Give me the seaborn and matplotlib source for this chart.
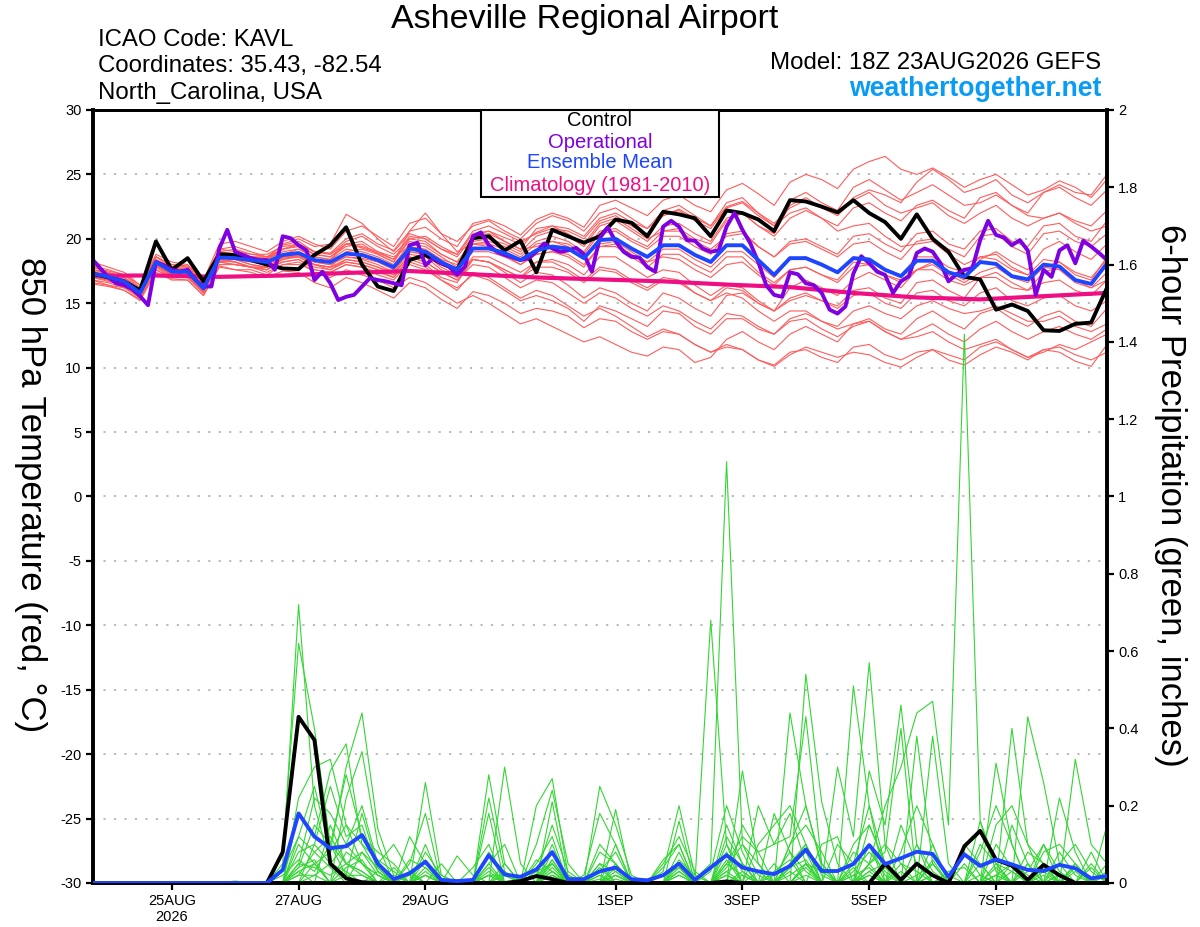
import numpy as np
import pandas as pd
import matplotlib
matplotlib.use("Agg")
import matplotlib.pyplot as plt
import seaborn as sns
from matplotlib.patches import Rectangle

# ---------------- data ----------------
run_start = "2026-08-23 18:00"
n6 = 65      # 6-hourly steps, 0..384 h
n3 = 129     # 3-hourly steps (operational)
n24 = 17     # daily steps (climatology)

xtick_dates = ["2026-08-25", "2026-08-27", "2026-08-29", "2026-09-01",
               "2026-09-03", "2026-09-05", "2026-09-07"]
xtick_labels = ["25AUG\n2026", "27AUG", "29AUG", "1SEP", "3SEP", "5SEP", "7SEP"]
temp_ticks = [30, 25, 20, 15, 10, 5, 0, -5, -10, -15, -20, -25, -30]
temp_tick_labels = ["30", "25", "20", "15", "10", "5", "0", "-5", "-10", "-15", "-20", "-25", "-30"]
pcp_ticks = [0, 0.2, 0.4, 0.6, 0.8, 1.0, 1.2, 1.4, 1.6, 1.8, 2.0]
pcp_tick_labels = ["0", "0.2", "0.4", "0.6", "0.8", "1", "1.2", "1.4", "1.6", "1.8", "2"]

control_t = [17.3, 17.0, 16.7, 16.0, 19.8, 17.6, 18.5, 16.7,
             18.8, 18.75, 18.35, 18.0, 17.7, 17.65, 18.75, 19.5,
             20.9, 18.0, 16.3, 15.95, 18.35, 18.75, 18.1, 17.6,
             20.05, 20.2, 19.1, 19.85, 17.4, 20.7, 20.2, 19.7,
             20.2, 21.5, 21.25, 20.2, 22.1, 21.9, 21.6, 20.2,
             22.2, 22.0, 21.5, 20.6, 23.0, 22.9, 22.5, 22.05,
             23.0, 22.0, 21.3, 20.0, 21.9, 20.0, 19.0, 17.05,
             16.85, 14.5, 14.9, 14.4, 12.9, 12.85, 13.4, 13.5,
             16.2]

mean_t = [17.3, 17.05, 16.7, 15.8, 18.2, 17.45, 17.45, 16.15,
          18.55, 18.5, 18.35, 18.2, 18.75, 18.9, 18.35, 18.2,
          18.85, 18.75, 18.35, 17.8, 19.25, 19.0, 18.2, 17.6,
          19.25, 19.25, 18.9, 18.35, 19.1, 19.4, 19.25, 18.5,
          19.9, 20.0, 19.25, 18.6, 19.5, 19.5, 18.75, 18.2,
          19.5, 19.5, 18.35, 17.2, 18.5, 18.5, 18.0, 17.4,
          18.5, 18.4, 17.6, 17.1, 18.3, 18.3, 17.4, 17.05,
          18.2, 18.05, 17.1, 16.85, 18.0, 17.85, 16.8, 16.5,
          18.1]

oper_t = [18.4, 17.7, 17.0, 16.55, 16.4, 16.1, 15.55, 14.85,
          18.2, 17.95, 17.6, 17.45, 17.6, 16.8, 16.3, 16.3,
          19.25, 20.7, 19.0, 18.75, 18.5, 18.35, 18.35, 17.6,
          20.2, 20.05, 19.5, 19.1, 16.8, 17.45, 16.55, 15.25,
          15.5, 15.65, 16.3, 16.95, 16.8, 16.7, 16.55, 16.4,
          19.5, 19.7, 17.95, 18.5, 18.1, 17.85, 17.2, 17.85,
          20.2, 20.5, 19.5, 19.0, 18.75, 18.55, 18.35, 18.5,
          19.0, 19.65, 19.25, 19.0, 19.1, 19.3, 18.8, 17.45,
          20.05, 20.9, 19.8, 19.0, 18.6, 18.55, 17.8, 17.45,
          20.95, 21.4, 20.95, 19.9, 19.85, 19.25, 19.0, 19.1,
          20.95, 22.0, 20.7, 19.65, 18.2, 16.4, 15.65, 15.5,
          17.4, 17.25, 16.55, 16.4, 15.8, 14.5, 14.2, 14.75,
          17.3, 18.65, 18.1, 17.45, 17.2, 15.8, 16.7, 17.1,
          18.9, 19.25, 19.0, 18.1, 16.7, 17.25, 17.6, 17.7,
          19.9, 21.4, 20.3, 20.1, 19.5, 19.9, 19.1, 15.65,
          17.6, 17.05, 19.1, 19.5, 18.1, 19.85, 19.4, 18.9,
          18.35]

clim_t = [17.15, 17.15, 17.05, 17.15, 17.35, 17.5, 17.25, 17.0, 16.85,
          16.7, 16.45, 16.25, 15.8, 15.45, 15.3, 15.55, 15.8]

mem_a = [17.8,17.5,17.2,16.4, 18.6,18.0,17.9,16.8, 19.2,19.4,19.0,18.6, 19.5,19.8,19.0,18.9,
         20.0,20.4,19.6,19.1, 20.6,20.9,20.0,19.4, 21.2,21.5,21.0,20.3, 21.5,22.0,21.6,20.9,
         22.6,23.0,22.4,21.8, 23.0,23.4,22.6,22.1, 23.8,24.3,23.5,22.6, 24.4,25.0,24.6,23.9,
         25.4,26.0,26.4,25.4, 25.0,25.5,24.8,24.0, 24.6,25.0,24.2,23.4, 23.8,24.5,24.0,23.2, 24.6]
mem_b = [17.0,16.8,16.5,15.9, 18.0,17.2,17.0,16.0, 18.8,18.6,18.6,18.5, 19.2,19.5,18.8,18.6,
         19.6,19.3,18.9,18.4, 20.2,20.0,19.2,18.8, 20.4,20.6,20.1,19.6, 20.5,21.0,20.8,20.2,
         21.6,22.0,21.3,20.8, 21.8,22.3,21.6,21.0, 22.5,22.9,22.0,21.2, 22.4,23.0,22.5,22.0,
         23.2,23.8,23.4,22.8, 24.4,25.4,24.6,23.6, 24.0,24.6,23.4,22.8, 23.6,24.2,23.6,23.4, 25.0]
mem_c = [16.8,16.4,16.0,15.3, 17.6,16.9,16.8,15.6, 17.9,17.6,17.4,17.0, 17.5,17.4,16.6,16.2,
         17.0,16.6,16.0,15.4, 16.6,16.2,15.3,14.6, 15.9,15.6,15.0,14.2, 14.6,14.4,14.0,13.1,
         13.8,13.6,12.8,12.2, 12.8,12.6,11.8,11.2, 11.6,11.4,10.6,10.2, 11.2,11.4,10.8,10.4,
         11.6,11.8,11.0,10.6, 11.2,11.4,10.6,10.2, 11.0,11.6,11.2,10.6, 11.4,11.2,10.5,10.1, 11.8]
mem_d = [17.5,17.2,16.6,15.6, 18.0,17.6,17.1,16.2, 18.2,18.0,17.8,17.4, 18.0,18.2,17.4,17.0,
         17.6,17.2,16.8,16.2, 17.0,16.6,15.8,15.0, 15.6,15.0,14.2,13.4, 13.8,13.2,12.6,12.0,
         12.4,11.8,11.2,10.9, 11.6,11.4,10.4,10.8, 12.2,12.8,12.0,11.4, 12.6,13.2,12.6,12.0,
         13.4,13.8,13.0,12.6, 13.8,14.4,13.6,13.0, 14.2,14.6,13.8,13.2, 14.0,14.4,13.6,13.2, 14.6]
mem_e = [16.6,16.4,16.2,15.6, 17.8,17.0,17.2,15.8, 18.4,18.2,17.8,17.6, 18.2,18.4,17.6,17.4,
         18.0,17.8,17.2,16.8, 18.2,17.8,16.8,16.0, 17.4,17.0,16.2,15.4, 16.0,15.6,14.8,14.0,
         14.6,14.0,13.2,12.4, 13.0,12.6,11.8,11.2, 11.8,11.4,10.6,10.1, 11.0,11.6,11.2,10.8,
         11.2,11.0,10.4,10.05, 10.8,11.4,11.0,10.6, 11.6,12.0,11.4,10.8, 11.2,11.8,11.4,12.0, 12.6]
mem_f = [17.0,16.9,16.4,15.5, 17.9,17.3,17.3,16.0, 18.2,18.4,18.0,17.8, 18.4,18.8,18.0,17.6,
         18.2,18.0,17.6,17.0, 18.6,18.2,17.4,16.8, 18.0,17.8,17.0,16.2, 16.8,16.6,15.8,15.0,
         15.8,15.4,14.6,14.0, 14.8,14.4,13.6,13.0, 14.2,14.0,13.2,12.6, 13.6,13.8,13.0,12.4,
         13.2,13.6,12.8,12.2, 12.8,13.4,12.6,12.0, 13.0,13.6,12.8,12.2, 12.8,13.2,12.6,12.2, 13.0]
mem_g = [17.4,17.1,16.9,16.0, 18.4,17.6,17.6,16.4, 18.8,18.6,18.4,18.4, 19.0,19.2,18.6,18.4,
         19.2,19.0,18.6,18.0, 19.6,19.4,18.6,17.8, 19.6,19.6,19.2,18.6, 19.6,19.8,19.6,18.8,
         20.4,20.6,19.8,19.2, 20.2,20.2,19.4,18.8, 20.4,20.6,19.4,18.6, 19.8,20.0,19.4,18.8,
         20.2,20.4,19.6,19.0, 20.4,20.6,19.6,19.2, 20.6,20.8,19.8,19.4, 21.0,21.2,20.2,19.8, 21.4]
mem_h = [18.2,17.8,17.4,16.4, 18.8,18.2,18.0,16.8, 19.6,19.8,19.4,19.0, 19.8,20.2,19.6,19.2,
         20.6,21.0,20.2,19.4, 21.2,21.6,20.4,19.8, 21.0,21.4,20.6,20.0, 21.2,21.8,21.4,20.6,
         22.0,22.4,21.6,20.8, 22.2,22.6,21.8,21.0, 22.8,23.2,22.0,21.0, 22.0,22.4,21.6,20.6,
         21.0,21.2,20.2,19.4, 19.6,19.8,18.8,18.0, 18.6,18.8,17.8,17.2, 17.8,17.6,16.6,16.2, 17.4]
mem_i = [16.5,16.3,16.0,15.2, 17.4,16.8,16.8,15.6, 17.8,17.6,17.6,17.2, 18.0,18.0,17.6,17.4,
         18.0,17.8,17.4,17.0, 18.4,18.0,17.0,16.6, 18.4,18.2,17.6,17.0, 17.8,17.8,17.4,16.6,
         17.6,17.4,16.6,16.0, 16.8,16.6,15.8,15.2, 16.2,16.0,15.0,14.4, 15.4,15.8,15.2,14.6,
         15.6,15.8,15.0,14.6, 15.8,16.0,15.2,14.8, 15.8,16.2,15.2,14.8, 15.4,15.6,14.8,14.4, 15.2]
mem_j = [17.6,17.4,17.0,16.2, 18.6,17.8,17.8,16.6, 18.6,18.8,18.6,18.4, 19.2,19.4,18.8,18.6,
         19.4,19.6,18.8,18.2, 20.0,19.8,18.8,18.2, 19.8,20.0,19.6,19.0, 20.2,20.6,20.2,19.4,
         21.0,21.4,20.6,19.8, 21.0,21.2,20.4,19.8, 21.6,22.0,21.0,20.2, 21.6,22.2,21.6,21.0,
         22.4,22.8,22.0,21.4, 22.6,23.0,22.2,21.6, 23.2,23.6,22.6,22.0, 23.6,24.0,23.2,22.6, 23.8]
mem_k = [17.2,16.8,16.4,15.4, 18.4,17.8,17.6,16.4, 19.0,18.8,18.6,18.4, 19.6,20.0,19.4,19.6,
         21.9,21.2,20.0,19.0, 20.4,20.0,19.2,18.6, 20.2,20.4,19.8,19.2, 19.4,19.8,19.4,18.6,
         19.6,19.8,19.0,18.2, 18.6,18.4,17.6,17.0, 18.0,18.2,17.2,16.4, 17.6,17.8,17.2,16.6,
         17.8,18.0,17.2,16.8, 17.6,18.0,17.2,16.6, 17.4,17.8,17.0,16.6, 17.8,18.2,17.4,17.0, 18.4]
mem_l = [17.0,16.7,16.4,15.6, 17.9,17.1,17.0,15.8, 18.4,18.2,17.8,17.6, 18.6,18.6,18.0,17.8,
         19.0,19.2,18.8,18.2, 20.6,22.0,20.4,19.0, 19.6,19.4,18.8,18.0, 18.8,19.0,18.6,17.8,
         19.4,19.4,18.6,17.8, 18.8,18.8,18.0,17.4, 18.6,18.6,17.4,16.6, 17.6,17.8,17.2,16.8,
         18.2,18.0,17.2,16.6, 17.6,17.6,16.8,16.4, 17.0,17.0,16.2,16.0, 16.6,16.8,16.0,15.6, 16.8]
mem_m = [17.2,16.8,16.6,15.8, 18.0,17.2,17.2,15.9, 18.0,18.0,17.8,17.6, 18.4,18.6,18.0,17.8,
         18.2,18.0,17.6,17.2, 18.0,17.6,16.8,16.2, 17.2,16.8,16.0,15.2, 15.6,15.2,14.6,13.6,
         14.8,14.4,13.8,13.2, 14.4,14.2,13.2,12.6, 13.8,13.8,13.0,12.6, 13.8,14.2,13.6,13.2,
         14.4,14.8,14.2,13.8, 14.8,15.2,14.6,14.2, 14.4,14.8,14.2,13.6, 13.6,14.0,13.2,12.8, 13.4]
mem_n = [17.8,17.4,16.8,15.8, 18.2,17.8,17.4,16.4, 19.2,19.0,18.8,18.6, 18.8,19.2,18.6,18.4,
         19.6,19.8,19.0,18.6, 19.4,19.2,18.4,18.0, 20.2,20.6,19.8,19.2, 20.8,21.0,20.4,19.6,
         21.2,21.6,20.8,20.0, 20.6,20.8,20.0,19.6, 21.4,22.0,21.0,20.4, 22.6,23.2,22.4,21.8,
         23.0,23.6,22.6,22.0, 22.4,22.8,21.8,21.2, 22.0,22.6,21.6,21.0, 21.6,22.0,21.4,21.0, 22.2]
mem_o = [17.4,17.2,16.8,15.9, 18.1,17.5,17.4,16.2, 18.5,18.4,18.2,18.0, 18.6,18.7,18.2,18.0,
         18.6,18.5,18.2,17.6, 19.0,18.8,18.0,17.4, 19.0,19.0,18.6,18.0, 18.8,19.0,18.8,18.0,
         19.4,19.6,18.8,18.2, 19.2,19.2,18.4,17.8, 19.0,19.0,18.0,17.0, 18.4,18.6,18.0,17.4,
         18.6,18.4,17.6,17.2, 18.6,18.6,17.8,17.4, 18.6,18.4,17.6,17.2, 18.4,18.2,17.2,16.8, 18.6]
mem_p = [16.8,16.6,16.2,15.4, 17.6,17.0,17.0,15.8, 18.2,18.0,17.8,17.8, 18.2,18.4,17.8,17.6,
         18.4,18.2,17.8,17.2, 18.8,18.6,17.6,17.0, 18.6,18.6,18.0,17.4, 18.2,18.4,18.0,17.2,
         18.6,18.6,17.8,17.0, 17.6,17.4,16.4,15.6, 16.4,16.2,15.2,14.4, 15.2,15.6,15.2,14.8,
         16.0,16.2,15.4,15.0, 16.6,16.8,16.0,15.4, 17.0,17.4,16.6,16.0, 17.4,17.8,16.8,16.2, 16.8]
mem_q = [17.6,17.3,17.0,16.0, 18.3,17.8,17.6,16.5, 19.0,18.8,18.6,18.6, 19.2,19.6,19.0,18.8,
         19.8,20.2,19.4,18.8, 20.0,20.2,19.4,18.8, 20.6,21.0,20.4,19.8, 20.4,20.8,20.6,20.0,
         21.4,21.8,21.0,20.4, 21.8,22.2,21.4,20.8, 22.4,22.8,21.8,21.0, 23.0,23.6,22.8,22.2,
         24.0,24.6,23.8,23.0, 23.6,24.2,23.4,22.6, 22.8,23.4,22.6,21.8, 21.6,22.0,21.2,20.6, 21.0]
mem_r = [17.2,17.0,16.6,15.6, 18.2,17.4,17.2,16.0, 18.6,18.4,18.0,17.8, 18.6,18.8,18.2,18.0,
         18.6,18.4,18.0,17.4, 19.0,18.8,17.8,17.2, 18.4,18.2,17.4,16.6, 17.4,17.2,16.4,15.4,
         16.2,15.8,15.0,14.4, 15.8,15.4,14.6,14.0, 15.6,15.8,15.0,14.4, 16.2,16.8,16.2,15.6,
         16.8,17.4,16.8,16.2, 17.6,18.2,17.4,16.8, 18.4,19.0,18.2,17.6, 19.2,19.8,19.0,18.4, 19.6]
mem_s = [17.9,17.6,17.2,16.2, 18.6,18.0,17.8,16.6, 19.0,19.2,18.8,18.8, 19.4,19.6,19.0,18.8,
         19.6,19.4,19.0,18.4, 19.8,19.6,18.8,18.2, 19.6,19.8,19.4,18.8, 19.8,20.2,19.8,19.0,
         20.6,20.8,20.0,19.4, 20.6,20.6,19.8,19.2, 20.2,20.4,19.4,18.6, 19.6,19.8,19.2,18.6,
         19.6,19.8,19.0,18.4, 19.8,20.0,19.2,18.6, 20.2,20.4,19.4,18.8, 20.4,20.6,19.8,19.4, 20.4]
mem_t = [17.1,16.9,16.5,15.7, 18.0,17.2,17.2,16.0, 18.3,18.2,17.8,17.8, 18.5,18.6,18.0,17.8,
         18.4,18.2,17.8,17.4, 18.6,18.2,17.4,16.8, 18.4,18.2,17.6,17.0, 18.2,18.2,17.6,16.8,
         17.8,17.6,16.8,16.2, 17.0,16.8,15.8,15.2, 15.8,15.4,14.4,13.6, 14.4,14.4,13.6,13.0,
         13.4,13.6,12.8,12.2, 12.4,12.8,12.0,11.4, 11.8,12.2,11.4,10.8, 11.4,11.6,11.0,10.6, 11.2]
members_t = [mem_a, mem_b, mem_c, mem_d, mem_e, mem_f, mem_g, mem_h, mem_i, mem_j,
             mem_k, mem_l, mem_m, mem_n, mem_o, mem_p, mem_q, mem_r, mem_s, mem_t]

control_p = [0, 0, 0, 0, 0, 0, 0, 0, 0, 0, 0, 0, 0.08, 0.43, 0.37, 0.05,
             0.012, 0.002, 0, 0, 0, 0, 0, 0, 0, 0, 0, 0.005, 0.018, 0.01, 0, 0,
             0, 0, 0, 0, 0, 0, 0, 0, 0.004, 0, 0, 0, 0, 0, 0, 0,
             0, 0, 0.05, 0.008, 0.05, 0.02, 0, 0.095, 0.135, 0.06, 0.045, 0.008, 0.047, 0.02, 0, 0,
             0]
mean_p = [0, 0, 0, 0, 0, 0, 0, 0, 0, 0, 0, 0, 0.034, 0.18, 0.12, 0.09,
          0.095, 0.124, 0.05, 0.01, 0.025, 0.055, 0.008, 0.005, 0.008, 0.072, 0.022, 0.016, 0.035, 0.08, 0.01, 0.01,
          0.03, 0.04, 0.01, 0.007, 0.02, 0.05, 0.008, 0.04, 0.072, 0.04, 0.03, 0.023, 0.044, 0.087, 0.031, 0.031,
          0.049, 0.098, 0.049, 0.064, 0.081, 0.075, 0.016, 0.074, 0.044, 0.061, 0.048, 0.034, 0.031, 0.047, 0.038, 0.012,
          0.018]

# ensemble member precipitation: {6-hour step index: inches}, all other steps are 0
pcp_01 = {12: 0.05, 13: 0.72, 14: 0.2, 15: 0.05, 16: 0.02, 21: 0.02, 25: 0.02, 29: 0.03, 32: 0.01, 37: 0.02,
          40: 0.05, 41: 0.02, 44: 0.04, 45: 0.08, 49: 0.03, 52: 0.05, 56: 0.02, 58: 0.03, 61: 0.02}
pcp_02 = {12: 0.08, 13: 0.62, 14: 0.4, 15: 0.1, 16: 0.05, 17: 0.02, 25: 0.28, 26: 0.05, 29: 0.06, 33: 0.02,
          38: 0.01, 39: 0.05, 40: 1.09, 41: 0.1, 42: 0.02, 45: 0.05, 48: 0.02, 51: 0.03, 55: 0.05, 57: 0.02, 60: 0.04}
pcp_03 = {13: 0.22, 14: 0.3, 15: 0.32, 16: 0.15, 17: 0.05, 18: 0.02, 21: 0.26, 22: 0.02, 26: 0.3, 27: 0.05,
          30: 0.02, 33: 0.19, 36: 0.03, 37: 0.2, 38: 0.02, 41: 0.29, 42: 0.05, 44: 0.44, 45: 0.2, 46: 0.05,
          49: 0.1, 50: 0.02, 53: 0.05, 57: 0.31, 58: 0.1, 62: 0.05}
pcp_04 = {13: 0.18, 14: 0.12, 15: 0.29, 16: 0.36, 17: 0.1, 18: 0.03, 20: 0.05, 21: 0.18, 25: 0.22, 26: 0.03,
          28: 0.2, 29: 0.27, 30: 0.02, 32: 0.05, 37: 0.16, 39: 0.68, 40: 0.1, 43: 0.05, 45: 0.54, 46: 0.21,
          47: 0.05, 49: 0.05, 50: 0.1, 54: 0.02, 58: 0.4, 59: 0.1, 60: 0.05}
pcp_05 = {12: 0.03, 13: 0.12, 14: 0.25, 15: 0.08, 16: 0.3, 17: 0.44, 18: 0.14, 19: 0.02, 25: 0.18, 29: 0.21,
          32: 0.25, 33: 0.15, 34: 0.02, 42: 0.2, 43: 0.1, 44: 0.12, 45: 0.43, 46: 0.05, 48: 0.51, 49: 0.2,
          50: 0.05, 53: 0.1, 59: 0.43, 60: 0.26, 61: 0.05, 64: 0.03}
pcp_06 = {13: 0.1, 14: 0.05, 16: 0.22, 17: 0.34, 18: 0.1, 20: 0.12, 21: 0.05, 23: 0.07, 24: 0.02, 28: 0.1,
          29: 0.24, 30: 0.05, 33: 0.1, 36: 0.06, 37: 0.1, 40: 0.15, 41: 0.05, 43: 0.18, 44: 0.08, 47: 0.3,
          48: 0.12, 49: 0.57, 50: 0.1, 51: 0.05, 56: 0.16, 57: 0.05, 61: 0.22, 62: 0.08}
pcp_07 = {13: 0.05, 14: 0.22, 15: 0.18, 16: 0.1, 17: 0.2, 18: 0.05, 19: 0.1, 20: 0.03, 22: 0.05, 24: 0.04,
          25: 0.1, 28: 0.05, 29: 0.12, 32: 0.08, 33: 0.05, 37: 0.08, 40: 0.05, 41: 0.12, 42: 0.08, 44: 0.03,
          46: 0.1, 47: 0.12, 49: 0.29, 50: 0.15, 51: 0.46, 52: 0.1, 55: 0.1, 56: 0.05, 60: 0.1, 62: 0.32,
          63: 0.1, 64: 0.05}
pcp_08 = {13: 0.08, 14: 0.1, 15: 0.25, 16: 0.12, 17: 0.15, 18: 0.03, 21: 0.06, 26: 0.05, 29: 0.1, 31: 0.02,
          32: 0.18, 33: 0.1, 36: 0.05, 37: 0.12, 38: 0.03, 40: 0.08, 42: 0.1, 43: 0.15, 44: 0.2, 45: 0.1,
          48: 0.08, 49: 0.05, 50: 0.2, 51: 0.3, 52: 0.44, 53: 0.47, 54: 0.15, 55: 1.42, 56: 0.16, 57: 0.03,
          59: 0.05, 62: 0.05}
pcp_09 = {13: 0.04, 14: 0.15, 15: 0.1, 16: 0.28, 17: 0.12, 18: 0.08, 19: 0.05, 21: 0.1, 25: 0.05, 26: 0.1,
          29: 0.08, 32: 0.05, 33: 0.03, 37: 0.05, 39: 0.03, 40: 0.2, 41: 0.08, 44: 0.1, 45: 0.15, 46: 0.08,
          48: 0.1, 49: 0.15, 50: 0.05, 52: 0.38, 53: 0.05, 57: 0.15, 58: 0.2, 59: 0.1, 63: 0.08}
pcp_10 = {13: 0.02, 14: 0.08, 15: 0.12, 16: 0.05, 17: 0.08, 18: 0.02, 20: 0.02, 28: 0.03, 29: 0.05, 33: 0.04,
          36: 0.02, 37: 0.04, 40: 0.1, 41: 0.03, 44: 0.05, 45: 0.1, 49: 0.05, 50: 0.08, 51: 0.4, 53: 0.38,
          54: 0.05, 58: 0.05, 60: 0.08, 61: 0.1, 62: 0.05}
pcp_11 = {14: 0.05, 15: 0.08, 16: 0.15, 17: 0.1, 18: 0.06, 19: 0.03, 21: 0.03, 25: 0.08, 29: 0.05, 32: 0.04,
          37: 0.03, 40: 0.04, 41: 0.1, 42: 0.05, 45: 0.05, 47: 0.1, 48: 0.05, 49: 0.2, 51: 0.08, 52: 0.2,
          53: 0.1, 56: 0.1, 57: 0.05, 59: 0.08, 60: 0.05, 63: 0.05}
pcp_12 = {13: 0.03, 14: 0.05, 16: 0.08, 17: 0.05, 20: 0.06, 21: 0.04, 25: 0.04, 28: 0.06, 29: 0.03, 32: 0.03,
          33: 0.08, 37: 0.06, 38: 0.02, 41: 0.15, 42: 0.08, 43: 0.1, 44: 0.18, 45: 0.05, 48: 0.03, 49: 0.08,
          50: 0.03, 56: 0.08, 57: 0.2, 58: 0.1, 61: 0.05, 62: 0.1, 63: 0.03}
pcp_13 = {12: 0.02, 13: 0.06, 14: 0.03, 15: 0.1, 16: 0.02, 17: 0.18, 18: 0.04, 25: 0.02, 26: 0.02, 29: 0.04,
          33: 0.02, 36: 0.04, 37: 0.1, 40: 0.02, 43: 0.02, 44: 0.08, 45: 0.03, 48: 0.05, 49: 0.1, 51: 0.15,
          52: 0.05, 55: 0.08, 56: 0.02, 58: 0.15, 59: 0.05, 62: 0.05, 64: 0.15}
pcp_14 = {14: 0.02, 15: 0.05, 16: 0.1, 17: 0.05, 18: 0.02, 21: 0.02, 29: 0.02, 32: 0.02, 40: 0.03, 41: 0.05,
          44: 0.02, 45: 0.05, 46: 0.03, 49: 0.05, 52: 0.02, 53: 0.05, 57: 0.05, 58: 0.03, 60: 0.02, 64: 0.02}
pcp_15 = {13: 0.05, 14: 0.04, 15: 0.02, 16: 0.05, 17: 0.03, 19: 0.04, 21: 0.08, 22: 0.02, 26: 0.03, 28: 0.02,
          29: 0.15, 30: 0.03, 33: 0.05, 37: 0.02, 40: 0.06, 44: 0.05, 45: 0.1, 46: 0.02, 49: 0.03, 50: 0.05,
          54: 0.03, 55: 0.04, 59: 0.05, 61: 0.08, 62: 0.02}
pcp_16 = {13: 0.12, 14: 0.08, 15: 0.04, 17: 0.08, 18: 0.04, 21: 0.04, 25: 0.03, 29: 0.02, 32: 0.1, 33: 0.05,
          36: 0.02, 37: 0.05, 40: 0.12, 41: 0.05, 43: 0.03, 44: 0.06, 48: 0.02, 49: 0.04, 52: 0.1, 53: 0.03,
          57: 0.1, 58: 0.04, 60: 0.03, 63: 0.04}
pcp_17 = {14: 0.1, 15: 0.05, 16: 0.03, 18: 0.03, 20: 0.03, 25: 0.05, 28: 0.02, 29: 0.05, 33: 0.03, 37: 0.03,
          41: 0.03, 44: 0.1, 45: 0.2, 46: 0.04, 49: 0.02, 51: 0.05, 52: 0.03, 57: 0.02, 58: 0.05, 59: 0.02, 62: 0.04}
pcp_18 = {13: 0.03, 15: 0.15, 16: 0.05, 17: 0.03, 21: 0.02, 29: 0.06, 32: 0.02, 40: 0.02, 42: 0.03, 45: 0.04,
          49: 0.15, 50: 0.05, 53: 0.02, 56: 0.05, 59: 0.03, 60: 0.1, 61: 0.03}
pcp_19 = {9: 0.005, 13: 0.04, 14: 0.06, 16: 0.04, 17: 0.06, 19: 0.02, 26: 0.02, 29: 0.03, 33: 0.02, 37: 0.04,
          40: 0.03, 44: 0.04, 45: 0.06, 48: 0.04, 50: 0.04, 53: 0.06, 57: 0.04, 62: 0.03, 64: 0.05}
pcp_20 = {13: 0.02, 14: 0.02, 16: 0.02, 17: 0.02, 25: 0.02, 29: 0.02, 33: 0.01, 41: 0.02, 45: 0.02, 49: 0.02,
          53: 0.02, 57: 0.02, 61: 0.02}
members_p = [pcp_01, pcp_02, pcp_03, pcp_04, pcp_05, pcp_06, pcp_07, pcp_08, pcp_09, pcp_10,
             pcp_11, pcp_12, pcp_13, pcp_14, pcp_15, pcp_16, pcp_17, pcp_18, pcp_19, pcp_20]

# ---------------- tables for seaborn ----------------
times6 = pd.date_range(run_start, periods=n6, freq="6h")
times3 = pd.date_range(run_start, periods=n3, freq="3h")
times24 = pd.date_range(run_start, periods=n24, freq="24h")

df_mt = pd.concat([pd.DataFrame({"time": times6, "val": m, "member": i})
                   for i, m in enumerate(members_t)], ignore_index=True)
rows = []
for i, d in enumerate(members_p):
    vals = np.zeros(n6)
    for k, v in d.items():
        vals[k] = v
    rows.append(pd.DataFrame({"time": times6, "val": vals, "member": i}))
df_mp = pd.concat(rows, ignore_index=True)

# ---------------- style ----------------
sns.set_theme(style="ticks")
plt.rcParams["font.family"] = ["Liberation Sans", "DejaVu Sans"]
plt.rcParams["axes.facecolor"] = "white"
plt.rcParams["text.color"] = "black"
plt.rcParams["axes.labelcolor"] = "black"
plt.rcParams["xtick.color"] = "black"
plt.rcParams["ytick.color"] = "black"

RED = "#ff5c5c"
GREEN = "#33d633"
PURPLE = "#7f00e0"
BLUE = "#1f46ff"
PINK = "#ee0f84"

fig = plt.figure(figsize=(12, 9.27), dpi=100)
ax = fig.add_axes([0.0771, 0.04747, 0.8454, 0.83387])
ax.set_zorder(1)
ax.patch.set_visible(True)

ax.set_ylim(-30, 30)
ax.grid(axis="y", color="#b4b4b4", linestyle=(0, (1.2, 4.6)), linewidth=1.3)
ax.set_axisbelow(True)

sns.lineplot(data=df_mt, x="time", y="val", units="member", estimator=None,
             color=RED, linewidth=0.8, ax=ax, legend=False, zorder=2)
sns.lineplot(x=times24, y=clim_t, color=PINK, linewidth=3.0, ax=ax, zorder=3)
sns.lineplot(x=times6, y=control_t, color="black", linewidth=2.8, ax=ax, zorder=4)
sns.lineplot(x=times3, y=oper_t, color=PURPLE, linewidth=2.8, ax=ax, zorder=5)
sns.lineplot(x=times6, y=mean_t, color=BLUE, linewidth=2.8, ax=ax, zorder=6)

ax2 = ax.twinx()
ax2.set_zorder(2)
ax2.patch.set_visible(False)
ax2.set_ylim(0, 2)
sns.lineplot(data=df_mp, x="time", y="val", units="member", estimator=None,
             color=GREEN, linewidth=0.8, ax=ax2, legend=False, zorder=2)
sns.lineplot(x=times6, y=control_p, color="black", linewidth=2.8, ax=ax2, zorder=4)
sns.lineplot(x=times6, y=mean_p, color=BLUE, linewidth=2.8, ax=ax2, zorder=5)

ax.set_xlim(times6[0], times6[-1])
ax.set_xticks(pd.to_datetime(xtick_dates))
ax.set_xticklabels(xtick_labels)
ax.set_yticks(temp_ticks)
ax.set_yticklabels(temp_tick_labels)
ax2.set_yticks(pcp_ticks)
ax2.set_yticklabels(pcp_tick_labels)
for a in (ax, ax2):
    a.set_xlabel("")
    a.set_ylabel("")
    for s in a.spines.values():
        s.set_color("black")
        s.set_linewidth(2.6)
    a.spines["top"].set_linewidth(2.0)
ax.tick_params(axis="both", direction="out", length=5, width=1.6, labelsize=10.5,
               colors="black", pad=3)
ax2.tick_params(axis="y", direction="out", length=5, width=1.6, labelsize=10.5,
                colors="black", pad=3)

# ---------------- texts ----------------
fig.text(0.4875, 0.9795, "Asheville Regional Airport", ha="center", va="center", fontsize=24.5)
fig.text(0.0817, 0.9569, "ICAO Code: KAVL", ha="left", va="center", fontsize=17.3)
fig.text(0.0817, 0.9288, "Coordinates: 35.43, -82.54", ha="left", va="center", fontsize=17.3)
fig.text(0.0817, 0.8997, "North_Carolina, USA", ha="left", va="center", fontsize=17.3)
fig.text(0.9175, 0.9320, "Model: 18Z 23AUG2026 GEFS", ha="right", va="center", fontsize=17.3)
fig.text(0.9175, 0.9040, "weathertogether.net", ha="right", va="center", fontsize=19.2,
         fontweight="bold", color="#0a9cf5")
fig.text(0.025, 0.466, "850 hPa Temperature (red, °C)", rotation=270, ha="center",
         va="center", fontsize=25)
fig.text(0.975, 0.466, "6-hour Precipitation (green, inches)", rotation=270, ha="center",
         va="center", fontsize=25)

legend_items = [("Control", "black"), ("Operational", PURPLE),
                ("Ensemble Mean", BLUE), ("Climatology (1981-2010)", PINK)]
fig.add_artist(Rectangle((0.4008, 0.7875), 0.1983, 0.0938, transform=fig.transFigure,
                         facecolor="white", edgecolor="black", linewidth=1.5, zorder=5))
for (label, col), yy in zip(legend_items, [0.8695, 0.8468, 0.8242, 0.8004]):
    fig.text(0.5, yy, label, ha="center", va="center", fontsize=14.5, color=col, zorder=6)

fig.savefig("out.png", dpi=100, facecolor="white")
